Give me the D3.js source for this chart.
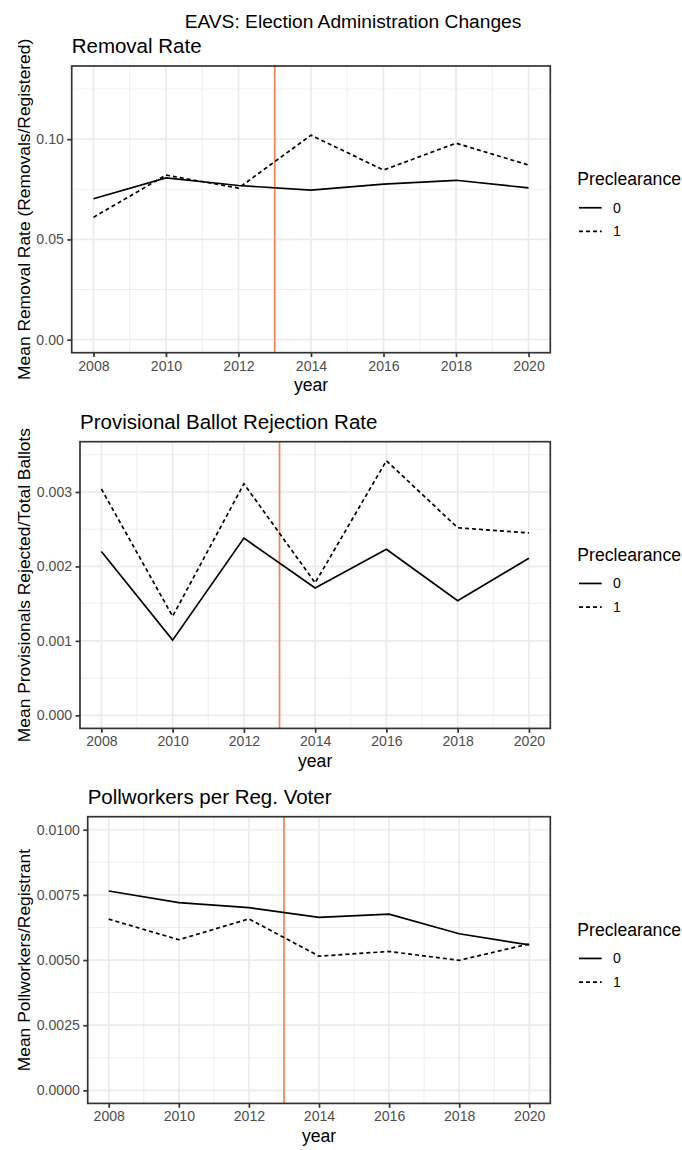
<!DOCTYPE html>
<html>
<head>
<meta charset="utf-8">
<script src="https://cdn.jsdelivr.net/npm/d3@7"></script>
<style>
  body { margin: 0; background: #fff; }
  svg { display: block; }
  text { font-family: "Liberation Sans", Arial, Helvetica, sans-serif; }
</style>
</head>
<body>
<script>
// Survey years and the preclearance reference line
const years = [2008, 2010, 2012, 2014, 2016, 2018, 2020];
const yearTicks = [2008, 2010, 2012, 2014, 2016, 2018, 2020];
const preclearanceCutoff = 2013;
const groups = ["0", "1"];

// Mean removal rate (removals / registered)
const removal0 = [0.0703, 0.0807, 0.0769, 0.0746, 0.0776, 0.0795, 0.0757];
const removal1 = [0.0610, 0.0821, 0.0756, 0.1020, 0.0846, 0.0980, 0.0871];
const removalTicks = [0, 0.05, 0.10];
const removalLimits = [0, 0.13];

// Mean provisional ballots rejected / total ballots
const provisional0 = [0.00220, 0.00101, 0.00238, 0.00171, 0.00223, 0.00154, 0.00211];
const provisional1 = [0.00304, 0.00133, 0.00311, 0.00178, 0.00342, 0.00252, 0.00245];
const provisionalTicks = [0, 0.001, 0.002, 0.003];
const provisionalLimits = [0, 0.0035];

// Mean pollworkers per registrant
const pollworkers0 = [0.00765, 0.00720, 0.00701, 0.00664, 0.00676, 0.00601, 0.00558];
const pollworkers1 = [0.00657, 0.00578, 0.00658, 0.00515, 0.00533, 0.00499, 0.00562];
const pollworkerTicks = [0, 0.0025, 0.005, 0.0075, 0.01];
const pollworkerLimits = [0, 0.01];

const W = 682, H = 1150;
const svg = d3.select("body").append("svg").attr("width", W).attr("height", H);
svg.append("rect").attr("width", W).attr("height", H).attr("fill", "#fff");

svg.append("text")
  .attr("x", 353).attr("y", 28)
  .attr("text-anchor", "middle")
  .attr("font-size", 19.2)
  .attr("fill", "#000")
  .text("EAVS: Election Administration Changes");

const panels = [
  { title: "Removal Rate", ylab: "Mean Removal Rate (Removals/Registered)",
    series: [removal0, removal1], ticks: removalTicks, limits: removalLimits,
    fmt: d3.format(".2f"), left: 71.7, top: 66 },
  { title: "Provisional Ballot Rejection Rate", ylab: "Mean Provisionals Rejected/Total Ballots",
    series: [provisional0, provisional1], ticks: provisionalTicks, limits: provisionalLimits,
    fmt: d3.format(".3f"), left: 80, top: 441.7 },
  { title: "Pollworkers per Reg. Voter", ylab: "Mean Pollworkers/Registrant",
    series: [pollworkers0, pollworkers1], ticks: pollworkerTicks, limits: pollworkerLimits,
    fmt: d3.format(".4f"), left: 87.7, top: 816.7 }
];

const right = 550.3, panelH = 286.7;
const gridCol = "#EBEBEB", borderCol = "#333333", tickTextCol = "#4D4D4D";
const lw = 1.7;
const dashes = [null, "4,3"];

panels.forEach(p => {
  const bottom = p.top + panelH;
  const xPad = 0.05 * (d3.max(years) - d3.min(years));
  const x = d3.scaleLinear()
    .domain([d3.min(years) - xPad, d3.max(years) + xPad])
    .range([p.left, right]);
  const span = p.limits[1] - p.limits[0];
  const y = d3.scaleLinear()
    .domain([p.limits[0] - 0.05 * span, p.limits[1] + 0.05 * span])
    .range([bottom, p.top]);

  const g = svg.append("g");

  // minor grid between major breaks
  const tickStep = p.ticks[1] - p.ticks[0];
  const yMinor = [];
  for (let i = 0; i <= p.ticks.length; i++) {
    const v = p.ticks[0] + (i - 0.5) * tickStep;
    if (v >= y.domain()[0] && v <= y.domain()[1]) yMinor.push(v);
  }
  const xMinor = yearTicks.slice(0, -1).map((d, i) => (d + yearTicks[i + 1]) / 2);

  g.selectAll(".ymin").data(yMinor).join("line")
    .attr("x1", p.left).attr("x2", right)
    .attr("y1", d => y(d)).attr("y2", d => y(d))
    .attr("stroke", gridCol).attr("stroke-width", 0.85);
  g.selectAll(".xmin").data(xMinor).join("line")
    .attr("y1", p.top).attr("y2", bottom)
    .attr("x1", d => x(d)).attr("x2", d => x(d))
    .attr("stroke", gridCol).attr("stroke-width", 0.85);
  g.selectAll(".ymaj").data(p.ticks).join("line")
    .attr("x1", p.left).attr("x2", right)
    .attr("y1", d => y(d)).attr("y2", d => y(d))
    .attr("stroke", gridCol).attr("stroke-width", lw);
  g.selectAll(".xmaj").data(yearTicks).join("line")
    .attr("y1", p.top).attr("y2", bottom)
    .attr("x1", d => x(d)).attr("x2", d => x(d))
    .attr("stroke", gridCol).attr("stroke-width", lw);

  // preclearance cutoff
  g.append("line")
    .attr("x1", x(preclearanceCutoff)).attr("x2", x(preclearanceCutoff))
    .attr("y1", p.top).attr("y2", bottom)
    .attr("stroke", "#FF7F50").attr("stroke-width", lw);

  // group lines
  const line = d3.line().x((d, i) => x(years[i])).y(d => y(d));
  p.series.forEach((s, k) => {
    g.append("path")
      .attr("d", line(s))
      .attr("fill", "none")
      .attr("stroke", "#000")
      .attr("stroke-width", lw)
      .attr("stroke-dasharray", dashes[k]);
  });

  // panel border
  g.append("rect")
    .attr("x", p.left).attr("y", p.top)
    .attr("width", right - p.left).attr("height", panelH)
    .attr("fill", "none").attr("stroke", borderCol).attr("stroke-width", lw);

  // axes
  const xAxis = g.append("g").attr("transform", `translate(0,${bottom})`)
    .call(d3.axisBottom(x).tickValues(yearTicks).tickFormat(d3.format("d"))
      .tickSize(4.4).tickPadding(3.5));
  const yAxis = g.append("g").attr("transform", `translate(${p.left},0)`)
    .call(d3.axisLeft(y).tickValues(p.ticks).tickFormat(p.fmt)
      .tickSize(4.4).tickPadding(3.5));
  [xAxis, yAxis].forEach(a => {
    a.select(".domain").remove();
    a.selectAll(".tick line").attr("stroke", borderCol).attr("stroke-width", lw);
    a.selectAll(".tick text").attr("fill", tickTextCol)
      .attr("font-size", 14.1)
      .style("font-family", '"Liberation Sans", Arial, sans-serif');
  });

  // titles
  svg.append("text")
    .attr("x", p.left).attr("y", p.top - 12.8)
    .attr("font-size", 20.5).attr("fill", "#000")
    .text(p.title);
  svg.append("text")
    .attr("x", (p.left + right) / 2).attr("y", bottom + 38.7)
    .attr("text-anchor", "middle")
    .attr("font-size", 17.6).attr("fill", "#000")
    .text("year");
  svg.append("text")
    .attr("transform", `translate(30,${(p.top + bottom) / 2}) rotate(-90)`)
    .attr("text-anchor", "middle")
    .attr("font-size", 17.4).attr("fill", "#000")
    .text(p.ylab);

  // legend
  const cy = (p.top + bottom) / 2;
  const lg = svg.append("g");
  lg.append("text").attr("x", 577.3).attr("y", cy - 24)
    .attr("font-size", 17.6).attr("fill", "#000").text("Preclearance");
  groups.forEach((gName, k) => {
    const ky = cy - 1.6 + k * 23.6;
    lg.append("line")
      .attr("x1", 579).attr("x2", 601.7).attr("y1", ky).attr("y2", ky)
      .attr("stroke", "#000").attr("stroke-width", lw)
      .attr("stroke-dasharray", dashes[k]);
    lg.append("text").attr("x", 613).attr("y", ky).attr("dy", "0.35em")
      .attr("font-size", 14.1).attr("fill", "#000").text(gName);
  });
});
</script>
</body>
</html>
